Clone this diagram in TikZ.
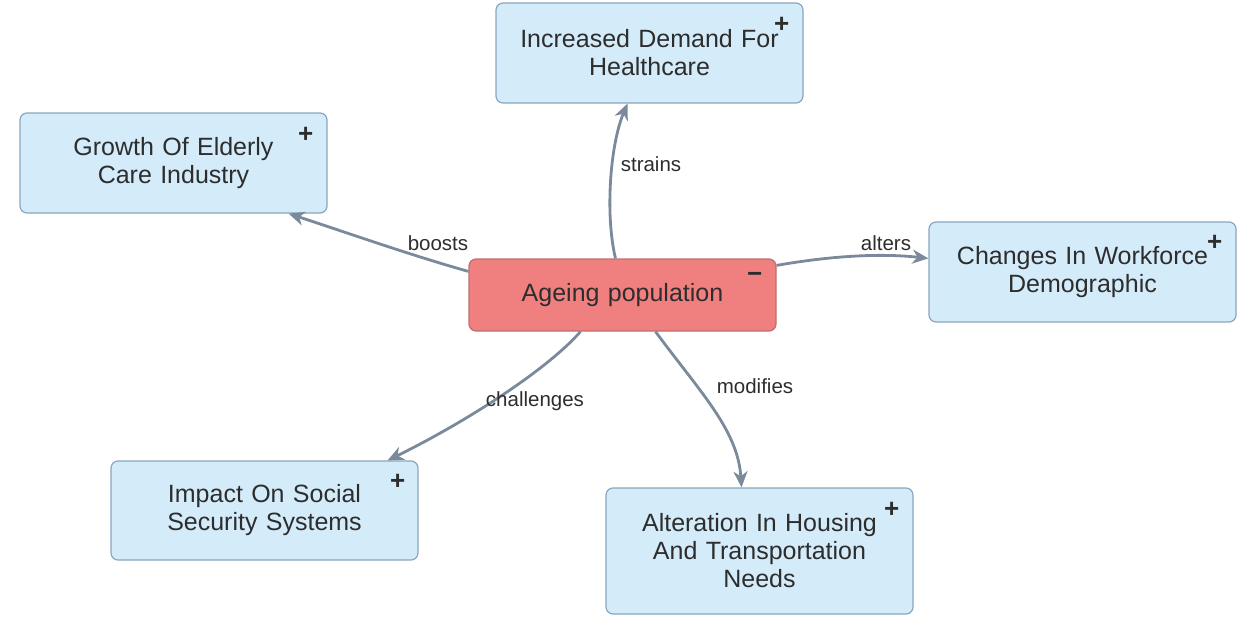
\documentclass[tikz,border=0pt]{standalone}
\usepackage{fontspec}
\setmainfont{Liberation Sans}
\usetikzlibrary{arrows.meta}
\definecolor{boxfill}{RGB}{212,236,250}
\definecolor{boxline}{RGB}{138,166,190}
\definecolor{corefill}{RGB}{240,128,128}
\definecolor{coreline}{RGB}{190,110,110}
\definecolor{edgecol}{RGB}{122,138,155}
\definecolor{txt}{RGB}{45,45,45}
\tikzset{
  concept/.style={draw=boxline, fill=boxfill, line width=1.2pt, rounded corners=7pt,
    minimum width=307pt, text width=290pt, align=center, text=txt,
    font=\fontsize{25}{28}\selectfont, inner sep=0pt},
  core/.style={concept, draw=coreline, fill=corefill},
  sign/.style={text=txt, font=\fontsize{26}{26}\selectfont\bfseries, inner sep=0pt},
  link/.style={draw=edgecol, line width=2.8pt, -{Stealth[length=16pt,width=14pt,inset=5pt]}},
  lbl/.style={text=txt, font=\fontsize{20.5}{24}\selectfont, inner sep=0pt}
}
\begin{document}
\begin{tikzpicture}[x=1pt,y=-1pt]
\useasboundingbox (0,0) rectangle (1247,616);
% concept boxes
\node[core, minimum height=72pt] (c) at (622.5,295) {Ageing population};
\node[concept, minimum height=100pt] (t) at (649.5,53) {Increased Demand For\\Healthcare};
\node[concept, minimum height=100pt] (g) at (173.5,163) {Growth Of Elderly\\Care Industry};
\node[concept, minimum height=100pt] (w) at (1082.5,272) {Changes In Workforce\\Demographic};
\node[concept, minimum height=99pt] (s) at (264.5,510.5) {Impact On Social\\Security Systems};
\node[concept, minimum height=126pt] (h) at (759.5,551) {Alteration In Housing\\And Transportation\\Needs};
% polarity marks
\node[sign] (cs) at ([xshift=-22pt,yshift=-19pt]c.north east) {−};
\node[sign] (ts) at ([xshift=-22pt,yshift=-22pt]t.north east) {+};
\node[sign] (gs) at ([xshift=-22pt,yshift=-22pt]g.north east) {+};
\node[sign] (ws) at ([xshift=-22pt,yshift=-21pt]w.north east) {+};
\node[sign] (ss) at ([xshift=-21pt,yshift=-21pt]s.north east) {+};
\node[sign] (hs) at ([xshift=-22pt,yshift=-22pt]h.north east) {+};
% links
\draw[link] ([xshift=-7pt]c.north) .. controls (605,215) and (610,145) .. ([xshift=-22pt]t.south);
\draw[link] ([yshift=-13pt]c.north west) .. controls (410,255) and (345,232) .. ([xshift=-39pt]g.south east);
\draw[link] ([yshift=-7pt]c.north east) .. controls (830,256) and (880,253) .. ([yshift=-37pt]w.north west);
\draw[link] ([xshift=-42pt]c.south) .. controls (545,372) and (460,425) .. ([xshift=-31pt]s.north east);
\draw[link] ([xshift=33pt]c.south) .. controls (700,392) and (738,430) .. ([xshift=-18pt]h.north);
% link labels
\node[lbl] (l1) at (651,164) {strains};
\node[lbl] (l2) at (438,243) {boosts};
\node[lbl] (l3) at (886,243) {alters};
\node[lbl] (l4) at (535,401) {challenges};
\node[lbl] (l5) at (755,386) {modifies};
\end{tikzpicture}
\end{document}
